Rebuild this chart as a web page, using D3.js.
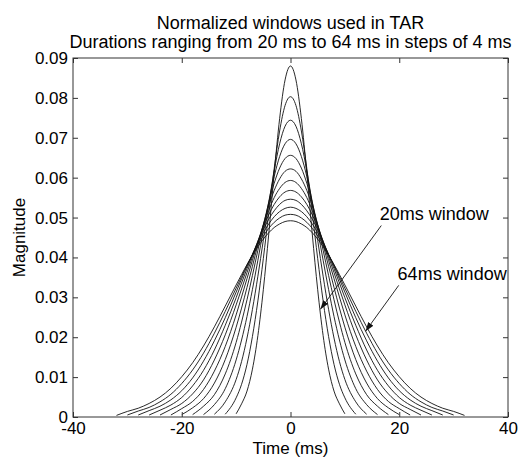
<!DOCTYPE html>
<html><head><meta charset="utf-8">
<script src="https://cdn.jsdelivr.net/npm/d3@7"></script>
<style>
html,body{margin:0;padding:0;background:#fff;}
text{font-family:"Liberation Sans",Arial,sans-serif;fill:#000;}
</style></head>
<body><svg id="chart" width="531" height="457"></svg>
<script>
// ---- data ----
const durations = [20, 24, 28, 32, 36, 40, 44, 48, 52, 56, 60, 64];
const tGrid = [0, 1, 2, 3, 4, 5, 6, 7, 8, 9, 10, 12, 14, 16, 18, 20, 22, 24, 26, 28, 30, 32];
const win20 = [0.0880, 0.0845, 0.0748, 0.0611, 0.0459, 0.0319, 0.0204, 0.0120, 0.0065, 0.0033, 0.0008];
const win24 = [0.0803, 0.0781, 0.0717, 0.0623, 0.0511, 0.0397, 0.0291, 0.0202, 0.0132, 0.0082, 0.0048, 0.0007];
const win28 = [0.0744, 0.0729, 0.0685, 0.0617, 0.0534, 0.0443, 0.0353, 0.0270, 0.0198, 0.0139, 0.0094, 0.0038, 0.0007];
const win32 = [0.0696, 0.0685, 0.0653, 0.0603, 0.0540, 0.0468, 0.0393, 0.0320, 0.0252, 0.0193, 0.0143, 0.0071, 0.0031, 0.0006];
const win36 = [0.0656, 0.0648, 0.0624, 0.0586, 0.0537, 0.0480, 0.0418, 0.0355, 0.0294, 0.0238, 0.0187, 0.0108, 0.0056, 0.0027, 0.0006];
const win40 = [0.0622, 0.0616, 0.0597, 0.0568, 0.0529, 0.0483, 0.0432, 0.0378, 0.0325, 0.0273, 0.0225, 0.0144, 0.0085, 0.0046, 0.0023, 0.0006];
const win44 = [0.0593, 0.0588, 0.0573, 0.0550, 0.0518, 0.0481, 0.0438, 0.0393, 0.0347, 0.0301, 0.0256, 0.0177, 0.0115, 0.0069, 0.0039, 0.0021, 0.0005];
const win48 = [0.0568, 0.0564, 0.0552, 0.0533, 0.0507, 0.0476, 0.0441, 0.0402, 0.0362, 0.0321, 0.0281, 0.0206, 0.0143, 0.0093, 0.0058, 0.0034, 0.0019, 0.0005];
const win52 = [0.0546, 0.0543, 0.0533, 0.0517, 0.0496, 0.0470, 0.0440, 0.0407, 0.0372, 0.0336, 0.0299, 0.0230, 0.0168, 0.0117, 0.0078, 0.0049, 0.0030, 0.0017, 0.0005];
const win56 = [0.0526, 0.0523, 0.0515, 0.0502, 0.0484, 0.0462, 0.0437, 0.0408, 0.0378, 0.0346, 0.0313, 0.0249, 0.0191, 0.0140, 0.0098, 0.0066, 0.0043, 0.0027, 0.0016, 0.0005];
const win60 = [0.0508, 0.0506, 0.0499, 0.0488, 0.0473, 0.0454, 0.0432, 0.0407, 0.0381, 0.0352, 0.0323, 0.0265, 0.0210, 0.0160, 0.0118, 0.0084, 0.0057, 0.0038, 0.0024, 0.0015, 0.0005];
const win64 = [0.0492, 0.0490, 0.0484, 0.0475, 0.0462, 0.0446, 0.0427, 0.0405, 0.0382, 0.0357, 0.0331, 0.0278, 0.0226, 0.0178, 0.0136, 0.0101, 0.0072, 0.0050, 0.0034, 0.0022, 0.0014, 0.0004];
const windows = [win20, win24, win28, win32, win36, win40, win44, win48, win52, win56, win60, win64];

const xTicks = [-40, -20, 0, 20, 40];
const xTickLabels = ["-40", "-20", "0", "20", "40"];
const yTicks = [0, 0.01, 0.02, 0.03, 0.04, 0.05, 0.06, 0.07, 0.08, 0.09];
const yTickLabels = ["0", "0.01", "0.02", "0.03", "0.04", "0.05", "0.06", "0.07", "0.08", "0.09"];
const titleLines = ["Normalized windows used in TAR", "Durations ranging from 20 ms to 64 ms in steps of 4 ms"];
const xLabel = "Time (ms)";
const yLabel = "Magnitude";
// annotations (data coordinates)
const annoText = ["20ms window", "64ms window"];
const annoTextPos = [[16.4, 0.0493], [19.7, 0.0344]];
const annoArrowFrom = [[16.7, 0.048], [19.9, 0.033]];
const annoArrowTo = [[5.5, 0.027], [13.8, 0.0215]];

// ---- layout ----
const L = 73, R = 508, T = 58, B = 417;
const FS = 17, FT = 18;
const svg = d3.select("#chart");
const x = d3.scaleLinear().domain([-40, 40]).range([L, R]);
const y = d3.scaleLinear().domain([0, 0.09]).range([B, T]);

// curves
const line = d3.line().x(d => x(d[0])).y(d => y(d[1])).curve(d3.curveMonotoneX);
const g = svg.append("g");
windows.forEach((vals, i) => {
  const pts = [];
  for (let k = vals.length - 1; k >= 1; k--) pts.push([-tGrid[k], vals[k]]);
  for (let k = 0; k < vals.length; k++) pts.push([tGrid[k], vals[k]]);
  g.append("path").attr("d", line(pts)).attr("fill", "none")
    .attr("stroke", "#111").attr("stroke-width", 0.9);
});

// axes (box with inward ticks)
const axisCol = "#333";
const tl = 5;
function styleAxis(sel) {
  sel.select(".domain").remove();
  sel.selectAll(".tick line").attr("stroke", axisCol);
  sel.selectAll(".tick text").style("font-size", FS + "px").style("font-family", "'Liberation Sans', Arial, sans-serif").attr("fill", "#000");
}
const xb = svg.append("g").attr("transform", `translate(0,${B})`)
  .call(d3.axisBottom(x).tickValues(xTicks).tickSize(-tl).tickPadding(5).tickFormat((d, i) => xTickLabels[i]));
styleAxis(xb);
const xt = svg.append("g").attr("transform", `translate(0,${T})`)
  .call(d3.axisTop(x).tickValues(xTicks).tickSize(-tl).tickFormat(""));
styleAxis(xt);
const yl = svg.append("g").attr("transform", `translate(${L},0)`)
  .call(d3.axisLeft(y).tickValues(yTicks).tickSize(-tl).tickPadding(5).tickFormat((d, i) => yTickLabels[i]));
styleAxis(yl);
const yr = svg.append("g").attr("transform", `translate(${R},0)`)
  .call(d3.axisRight(y).tickValues(yTicks).tickSize(-tl).tickFormat(""));
styleAxis(yr);
svg.append("rect").attr("x", L).attr("y", T).attr("width", R - L).attr("height", B - T)
  .attr("fill", "none").attr("stroke", axisCol).attr("stroke-width", 1);

// titles and labels
titleLines.forEach((s, i) => {
  svg.append("text").attr("x", (L + R) / 2).attr("y", T - 29 + i * 19)
    .attr("text-anchor", "middle").style("font-size", FT + "px").text(s);
});
svg.append("text").attr("x", (L + R) / 2).attr("y", 453.6).attr("text-anchor", "middle")
  .style("font-size", FS + "px").text(xLabel);
svg.append("text").attr("transform", `translate(25,${(T + B) / 2}) rotate(-90)`)
  .attr("text-anchor", "middle").style("font-size", FS + "px").text(yLabel);

// annotations
const defs = svg.append("defs");
defs.append("marker").attr("id", "ah").attr("viewBox", "0 0 10 10").attr("refX", 10).attr("refY", 5)
  .attr("markerWidth", 9).attr("markerHeight", 9).attr("markerUnits", "userSpaceOnUse").attr("orient", "auto")
  .append("path").attr("d", "M0,1.5 L10,5 L0,8.5 Z").attr("fill", "#111");
annoText.forEach((s, i) => {
  svg.append("text").attr("x", x(annoTextPos[i][0])).attr("y", y(annoTextPos[i][1]))
    .style("font-size", FT + "px").text(s);
  svg.append("line").attr("x1", x(annoArrowFrom[i][0])).attr("y1", y(annoArrowFrom[i][1]))
    .attr("x2", x(annoArrowTo[i][0])).attr("y2", y(annoArrowTo[i][1]))
    .attr("stroke", "#111").attr("stroke-width", 0.9).attr("marker-end", "url(#ah)");
});
</script></body></html>
